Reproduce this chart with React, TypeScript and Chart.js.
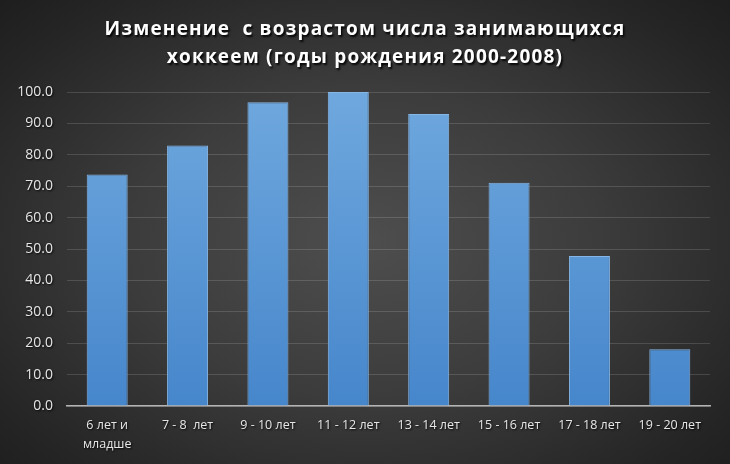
import React, { useEffect, useRef } from "react";
import { Chart, registerables } from "chart.js";

Chart.register(...registerables);

const titleLines = ["Изменение  с возрастом числа занимающихся", "хоккеем (годы рождения 2000-2008)"];
const categories: (string | string[])[] = [
  ["6 лет и", "младше"],
  "7 - 8  лет",
  "9 - 10 лет",
  "11 - 12 лет",
  "13 - 14 лет",
  "15 - 16 лет",
  "17 - 18 лет",
  "19 - 20 лет",
];
const values = [73.7, 83.0, 96.7, 100.0, 93.0, 71.1, 47.8, 18.1];
const yMin = 0;
const yMax = 100;
const yStep = 10;

const W = 730;
const H = 464;

const shadowPlugin = {
  id: "shadowText",
  beforeDraw(chart: any) {
    const ctx = chart.ctx;
    ctx.shadowColor = "rgba(0,0,0,0)";
    ctx.shadowBlur = 0;
    ctx.shadowOffsetX = 0;
    ctx.shadowOffsetY = 0;
  },
  afterDatasetsDraw(chart: any) {
    const ctx = chart.ctx;
    ctx.shadowColor = "rgba(0,0,0,0.85)";
    ctx.shadowBlur = 2;
    ctx.shadowOffsetX = 1;
    ctx.shadowOffsetY = 1;
  },
  afterDraw(chart: any) {
    const ctx = chart.ctx;
    ctx.save();
    ctx.shadowColor = "rgba(0,0,0,0.9)";
    ctx.shadowBlur = 2;
    ctx.shadowOffsetX = 1.5;
    ctx.shadowOffsetY = 1.5;
    ctx.fillStyle = "#ffffff";
    ctx.font = "bold 19px 'Open Sans', 'DejaVu Sans', sans-serif";
    try { (ctx as any).letterSpacing = "1.2px"; } catch (e) {}
    ctx.textAlign = "center";
    ctx.textBaseline = "middle";
    ctx.fillText(titleLines[0], W / 2, 30);
    ctx.fillText(titleLines[1], W / 2, 58);
    ctx.restore();
    ctx.shadowColor = "rgba(0,0,0,0)";
    ctx.shadowBlur = 0;
    ctx.shadowOffsetX = 0;
    ctx.shadowOffsetY = 0;
  },
};

export default function App() {
  const ref = useRef<HTMLCanvasElement>(null);
  useEffect(() => {
    if (!ref.current) return;
    const chart = new Chart(ref.current, {
      type: "bar",
      data: {
        labels: categories,
        datasets: [
          {
            data: values,
            backgroundColor: (c: any) => {
              const area = c.chart.chartArea;
              if (!area) return "#5b9bd5";
              const g = c.chart.ctx.createLinearGradient(0, area.top, 0, area.bottom);
              g.addColorStop(0, "#6fa8de");
              g.addColorStop(1, "#4686cb");
              return g;
            },
            borderColor: "#86b6e6",
            borderWidth: 1,
            barPercentage: 0.51,
            categoryPercentage: 1,
          },
        ],
      },
      options: {
        animation: false,
        responsive: false,
        maintainAspectRatio: false,
        layout: { padding: { top: 92, right: 20, left: 0, bottom: 0 } },
        plugins: {
          legend: { display: false },
          tooltip: { enabled: false },
          title: { display: false },
        },
        scales: {
          x: {
            grid: { display: false, drawTicks: false },
            border: { display: true, color: "#b4b4b4", width: 1.5 },
            ticks: {
              color: "#e6e6e6",
              font: { size: 12.5, family: "'Open Sans', 'DejaVu Sans', sans-serif", lineHeight: 1.5 },
              padding: 10,
              maxRotation: 0,
              autoSkip: false,
              z: 1,
            } as any,
            afterFit: (s: any) => { s.height = 58; },
          },
          y: {
            min: yMin,
            max: yMax,
            grid: { color: "rgba(255,255,255,0.14)", lineWidth: 1, drawTicks: false },
            border: { display: false },
            ticks: {
              stepSize: yStep,
              color: "#e6e6e6",
              font: { size: 14, family: "'Open Sans', 'DejaVu Sans', sans-serif" },
              padding: 14,
              callback: (v: any) => Number(v).toFixed(1),
              z: 1,
            } as any,
            afterFit: (s: any) => { s.width = 67; },
          },
        },
      },
      plugins: [shadowPlugin],
    });
    return () => chart.destroy();
  }, []);
  return (
    <div
      style={{
        position: "fixed",
        left: 0,
        top: 0,
        width: W,
        height: H,
        background: "radial-gradient(ellipse at 50% 52%, #4e4e4e 0%, #3c3c3c 45%, #252525 85%, #1e1e1e 100%)",
      }}
    >
      <canvas ref={ref} width={W} height={H} style={{ width: W, height: H, display: "block" }} />
    </div>
  );
}
